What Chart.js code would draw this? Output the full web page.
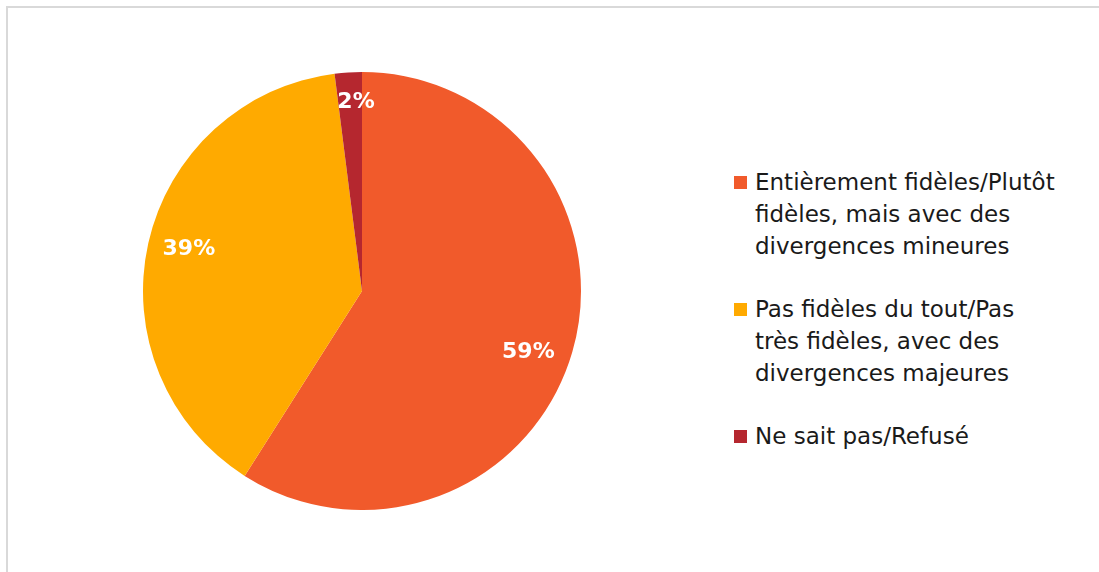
<!DOCTYPE html>
<html>
<head>
<meta charset="utf-8">
<script src="https://cdn.jsdelivr.net/npm/chart.js@4"></script>
<style>
  html, body { margin: 0; padding: 0; background: #fff; width: 1099px; height: 572px; overflow: hidden; }
  #frame { position: absolute; left: 6px; top: 6px; width: 1200px; height: 700px; border: 2px solid #d9d9d9; }
  #wrap { position: absolute; left: 143px; top: 72px; width: 438px; height: 438px; }
  #legend { position: absolute; left: 734px; top: 166px; font-family: "DejaVu Sans", sans-serif; font-size: 23px; line-height: 32px; color: #1a1a1a; }
  .item { position: relative; padding-left: 21px; margin-bottom: 31px; }
  .box { position: absolute; left: 0; top: 10px; width: 13px; height: 13px; }
</style>
</head>
<body>
<div id="frame"></div>
<div id="wrap"><canvas id="pie"></canvas></div>
<div id="legend"></div>
<script>
  const categories = [
    ["Entièrement fidèles/Plutôt", "fidèles, mais avec des", "divergences mineures"],
    ["Pas fidèles du tout/Pas", "très fidèles, avec des", "divergences majeures"],
    ["Ne sait pas/Refusé"]
  ];
  const shares = [59, 39, 2];
  const colors = ['#F15A2B', '#FFAA00', '#B5272F'];

  // Plugins

  // small nudges so the labels sit where the original puts them
  const nudge = [[-4, 12], [0, -3], [6, 1]];

  const pctLabels = {
    id: 'pctLabels',
    afterDatasetsDraw: (chart) => {
      const {ctx} = chart;
      const meta = chart.getDatasetMeta(0);
      ctx.save();
      ctx.fillStyle = '#ffffff';
      ctx.font = 'bold 22px "DejaVu Sans", sans-serif';
      ctx.textAlign = 'center';
      ctx.textBaseline = 'middle';
      meta.data.forEach((arc, i) => {
        const p = arc.getProps(['x', 'y', 'startAngle', 'endAngle', 'outerRadius'], true);
        const mid = (p.startAngle + p.endAngle) / 2;
        const f = shares[i] < 5 ? 0.87 : 0.81;
        const x = p.x + Math.cos(mid) * p.outerRadius * f + nudge[i][0];
        const y = p.y + Math.sin(mid) * p.outerRadius * f + nudge[i][1];
        ctx.fillText(shares[i] + '%', x, y);
      });
      ctx.restore();
    }
  };

  const pieChart = new Chart(
    document.getElementById('pie'),
    {
      type: 'pie',
      plugins: [pctLabels],
      options: {
        animation: false,
        responsive: true,
        maintainAspectRatio: false,
        layout: { padding: 0 },
        plugins: {
          legend: { display: false },
          tooltip: { enabled: false }
        }
      },
      data: {
        labels: categories,
        datasets: [
          {
            data: shares,
            backgroundColor: colors,
            borderWidth: 0
          }
        ]
      }
    }
  );

  // legend on the right
  const legend = document.getElementById('legend');
  for (let i = 0; i < categories.length; i++) {
    let item = document.createElement('div');
    item.className = 'item';
    let box = document.createElement('span');
    box.className = 'box';
    box.style.background = colors[i];
    item.appendChild(box);
    item.innerHTML += categories[i].join('<br>');
    legend.appendChild(item);
  }
</script>
</body>
</html>
